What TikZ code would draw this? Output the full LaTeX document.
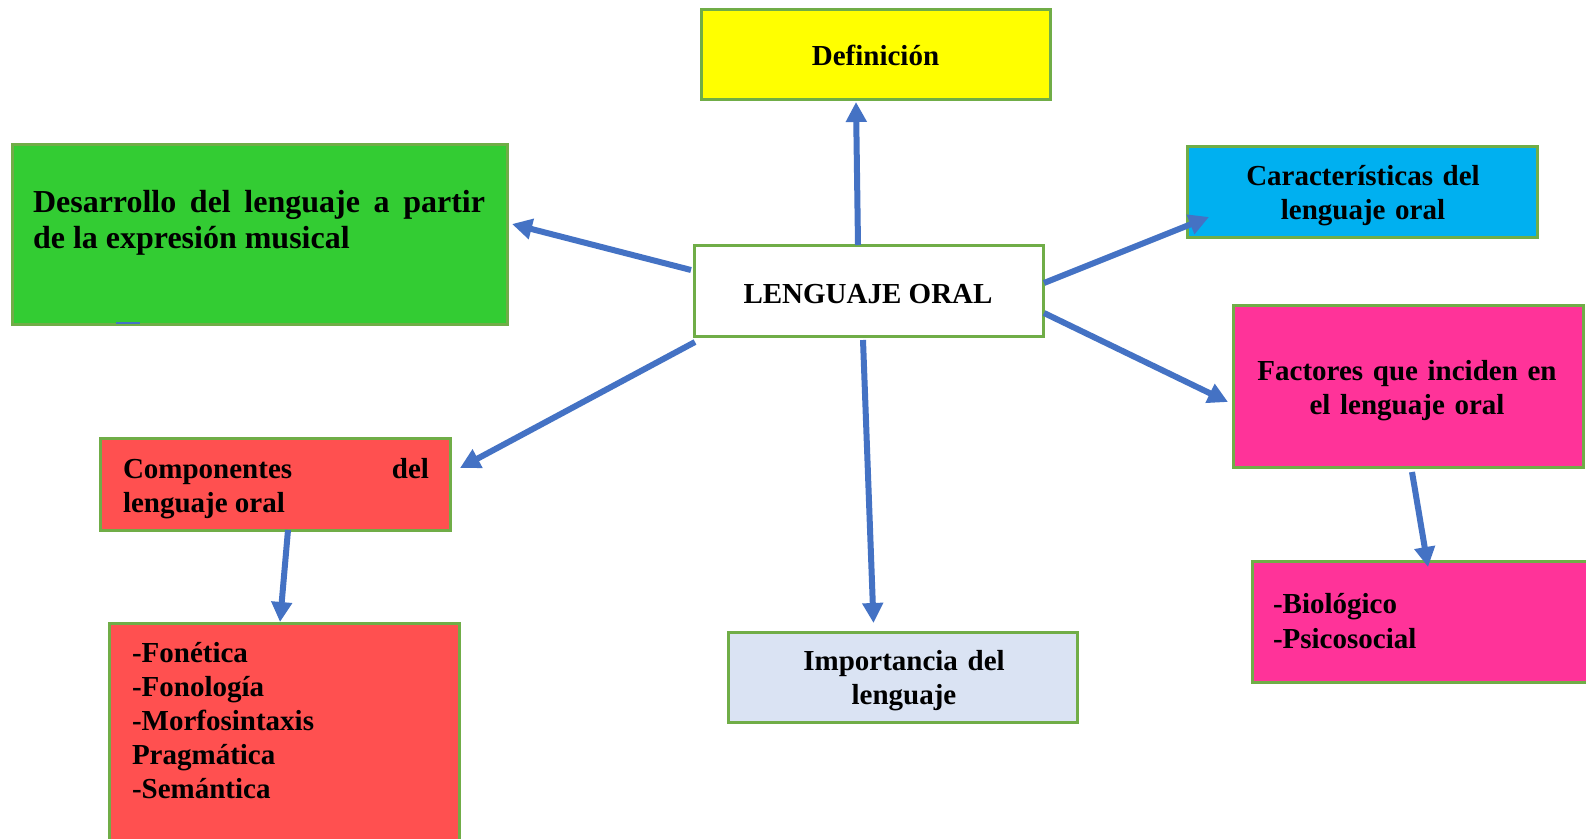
\documentclass[tikz,border=0pt]{standalone}
\usepackage{fontspec}
\setmainfont{Liberation Serif}
\usetikzlibrary{arrows.meta,calc}
\definecolor{arrblue}{HTML}{4472C4}
\definecolor{boxgreen}{HTML}{70AD47}
\definecolor{cyellow}{HTML}{FFFF00}
\definecolor{clime}{HTML}{33CC33}
\definecolor{ccyan}{HTML}{00B0F0}
\definecolor{cpink}{HTML}{FF3399}
\definecolor{cred}{HTML}{FF5050}
\definecolor{clight}{HTML}{DAE3F3}
\hyphenpenalty=10000
\exhyphenpenalty=10000
\tolerance=10000
\begin{document}
\begin{tikzpicture}[x=1pt,y=-1pt,
  box/.style={draw=boxgreen, line width=3pt, inner sep=0pt, outer sep=0pt, anchor=north west},
  txt/.style={font=\bfseries\fontsize{29pt}{34pt}\selectfont, inner sep=0pt, outer sep=0pt},
  bigtxt/.style={font=\bfseries\fontsize{32pt}{36pt}\selectfont, inner sep=0pt, outer sep=0pt},
  arr/.style={draw=arrblue, line width=6pt, -{Triangle[length=20pt,width=20pt]}}]
\useasboundingbox (0,0) rectangle (1586,838);
\clip (0,0) rectangle (1586,838);
\fill[white] (0,0) rectangle (1586,838);

% boxes
\node[box, fill=cyellow, minimum width=349pt, minimum height=90pt] (def) at (701,9) {};
\node[box, fill=clime, minimum width=495pt, minimum height=180pt] (dev) at (12,144) {};
\node[box, fill=white, minimum width=349pt, minimum height=91pt] (c) at (694,245) {};
\node[box, fill=ccyan, minimum width=350pt, minimum height=91pt] (car) at (1187,146) {};
\node[box, fill=cpink, minimum width=350pt, minimum height=162pt] (fac) at (1233,305) {};
\node[box, fill=cpink, minimum width=360pt, minimum height=121pt] (bio) at (1252,561) {};
\node[box, fill=cred, minimum width=350pt, minimum height=92pt] (comp) at (100,438) {};
\node[box, fill=cred, minimum width=350pt, minimum height=240pt] (fon) at (109,623) {};
\node[box, fill=clight, minimum width=349pt, minimum height=90pt] (imp) at (728,632) {};

% texts
\node[txt, anchor=base] (defT) at (875.5,65) {Definición};
\node[bigtxt, anchor=base west, text width=452pt, align=justify] (devT) at (33,212)
  {Desarrollo del lenguaje a partir\linebreak de la expresión musical};
\node[txt, anchor=base] (cT) at (868,303) {LENGUAJE ORAL};
\node[txt, anchor=base, text width=340pt, align=center] (carT) at (1363,185)
  {Características del\\lenguaje oral};
\node[txt, anchor=base, text width=340pt, align=center] (facT) at (1407,380)
  {Factores que inciden en\\el lenguaje oral};
\node[txt, anchor=base west, text width=306pt, align=justify] (compT) at (123,478)
  {Componentes del lenguaje oral};
\node[txt, anchor=base west, text width=300pt, align=left] (fonT) at (132,662)
  {-Fonética\\-Fonología\\-Morfosintaxis\\Pragmática\\-Semántica};
\node[txt, anchor=base, text width=330pt, align=center] (impT) at (904,670)
  {Importancia del\\lenguaje};
\node[txt, anchor=base west, text width=300pt, align=left, font=\bfseries\fontsize{29pt}{35pt}\selectfont] (bioT) at (1273,613)
  {-Biológico\\-Psicosocial};

% stray mark at the bottom of the green box
\draw[arrblue, line width=2pt] ($(dev.south west)+(104,-1)$) -- ($(dev.south west)+(128,-1)$);

% connectors
\draw[arr] ($(c.north)+(-10.5,0)$) -- ($(def.south)+(-19.5,3)$);
\draw[arr] ($(c.west)+(-3,-20.5)$) -- ($(dev.east)+(5,-10)$);
\draw[arr] ($(c.south west)+(1,6)$) -- ($(comp.north east)+(10,30)$);
\draw[arr] ($(c.east)+(1,-7.5)$) -- ($(car.south west)+(22,-20)$);
\draw[arr] ($(c.east)+(1,22.5)$) -- ($(fac.west)+(-5,16)$);
\draw[arr] ($(c.south)+(-5.5,4)$) -- ($(imp.north)+(-29,-9)$);
\draw[arr] ($(comp.south)+(13,0)$) -- ($(fon.north)+(-4,-1)$);
\draw[arr] ($(fac.south)+(4,5)$) -- ($(bio.north)+(-4,6)$);
\end{tikzpicture}
\end{document}
